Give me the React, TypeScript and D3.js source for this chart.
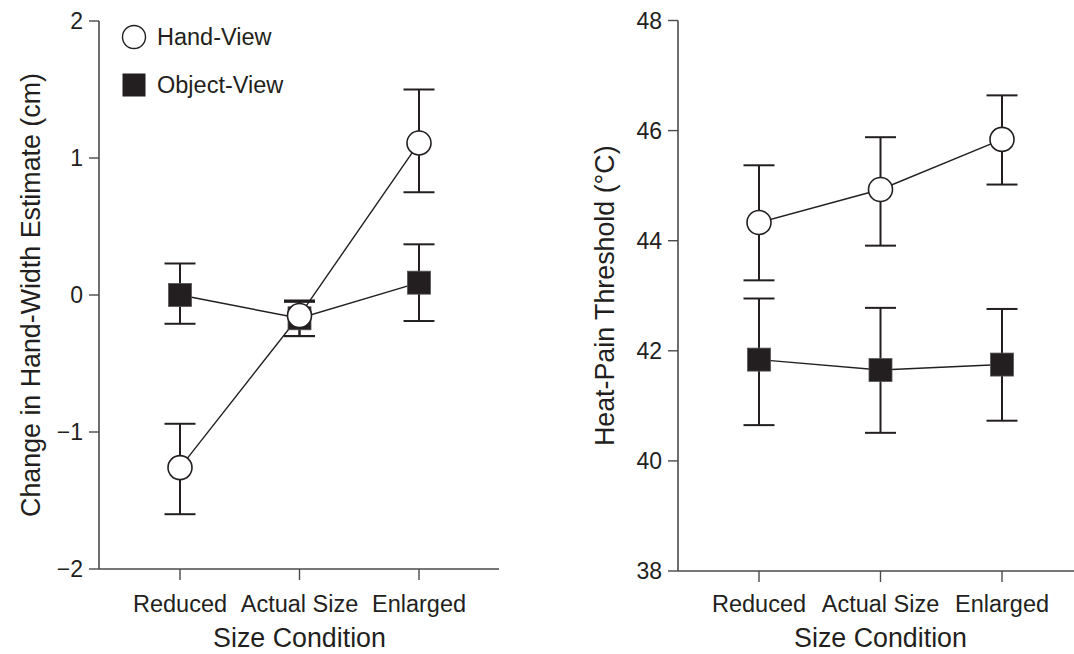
import React from "react";
import * as d3 from "d3";

const categories = ["Reduced", "Actual Size", "Enlarged"];

// Left panel: Change in Hand-Width Estimate (cm)
const leftTicks = [-2, -1, 0, 1, 2];
const leftHandMean = [-1.26, -0.15, 1.11];
const leftHandLow = [-1.6, -0.3, 0.75];
const leftHandHigh = [-0.94, -0.04, 1.5];
const leftObjMean = [0.0, -0.17, 0.09];
const leftObjLow = [-0.21, -0.3, -0.19];
const leftObjHigh = [0.23, -0.05, 0.37];

// Right panel: Heat-Pain Threshold (°C)
const rightTicks = [38, 40, 42, 44, 46, 48];
const rightHandMean = [44.33, 44.93, 45.84];
const rightHandLow = [43.28, 43.91, 45.02];
const rightHandHigh = [45.37, 45.88, 46.64];
const rightObjMean = [41.84, 41.65, 41.75];
const rightObjLow = [40.65, 40.51, 40.73];
const rightObjHigh = [42.95, 42.78, 42.76];

const legendLabels = ["Hand-View", "Object-View"];

const INK = "#231f20";
const AXIS = "#4a4a4a";
const FONT = "'Liberation Sans', Arial, Helvetica, sans-serif";

type Series = { mean: number[]; low: number[]; high: number[] };

function Panel(props: {
  x0: number; x1: number; axisEnd: number; xLineEnd: number;
  yTop: number; yBottom: number; domain: [number, number];
  ticks: number[]; tickFmt: (v: number) => string;
  hand: Series; obj: Series; yTitle: string; yTitleX: number;
}) {
  const { x0, x1, axisEnd, xLineEnd, yTop, yBottom, domain, ticks, tickFmt, hand, obj, yTitle, yTitleX } = props;
  const x = d3.scalePoint<string>().domain(categories).range([x1, axisEnd]);
  const y = d3.scaleLinear().domain(domain).range([yBottom, yTop]);
  const line = d3.line<number>().x((_, i) => x(categories[i]) as number).y((v) => y(v));
  const cap = 15.5;
  const errBars = (s: Series, key: string) =>
    s.mean.map((_, i) => {
      const cx = x(categories[i]) as number;
      return (
        <g key={key + i} stroke={INK} strokeWidth={2}>
          <line x1={cx} x2={cx} y1={y(s.low[i])} y2={y(s.high[i])} />
          <line x1={cx - cap} x2={cx + cap} y1={y(s.low[i])} y2={y(s.low[i])} />
          <line x1={cx - cap} x2={cx + cap} y1={y(s.high[i])} y2={y(s.high[i])} />
        </g>
      );
    });
  const midX = x(categories[1]) as number;
  return (
    <g>
      <line x1={x0} x2={x0} y1={yTop} y2={yBottom} stroke={AXIS} strokeWidth={1.6} />
      <line x1={x0} x2={xLineEnd} y1={yBottom} y2={yBottom} stroke={AXIS} strokeWidth={1.6} />
      {ticks.map((t) => (
        <g key={"yt" + t}>
          <line x1={x0 - 10} x2={x0} y1={y(t)} y2={y(t)} stroke={AXIS} strokeWidth={1.4} />
          <text x={x0 - 16} y={y(t)} dy="0.35em" textAnchor="end" fontSize={23} fill={INK} fontFamily={FONT}>
            {tickFmt(t)}
          </text>
        </g>
      ))}
      {categories.map((c) => (
        <g key={"xt" + c}>
          <line x1={x(c)} x2={x(c)} y1={yBottom} y2={yBottom + 11} stroke={AXIS} strokeWidth={1.4} />
          <text x={x(c)} y={612} textAnchor="middle" fontSize={23.5} fill={INK} fontFamily={FONT}>
            {c}
          </text>
        </g>
      ))}
      <text x={midX} y={647} textAnchor="middle" fontSize={26.8} fill={INK} fontFamily={FONT}>
        Size Condition
      </text>
      <text
        transform={`translate(${yTitleX},${(yTop + yBottom) / 2}) rotate(-90)`}
        textAnchor="middle" fontSize={26.8} fill={INK} fontFamily={FONT}
      >
        {yTitle}
      </text>
      <path d={line(obj.mean) || ""} fill="none" stroke={INK} strokeWidth={1.4} />
      <path d={line(hand.mean) || ""} fill="none" stroke={INK} strokeWidth={1.4} />
      {errBars(obj, "eo")}
      {errBars(hand, "eh")}
      {obj.mean.map((v, i) => (
        <rect key={"sq" + i} x={(x(categories[i]) as number) - 11.5} y={y(v) - 11.5} width={23} height={23}
          fill={INK} stroke="#555" strokeWidth={0.8} />
      ))}
      {hand.mean.map((v, i) => (
        <circle key={"ci" + i} cx={x(categories[i]) as number} cy={y(v)} r={12}
          fill="#fff" stroke={INK} strokeWidth={1.6} />
      ))}
    </g>
  );
}

export default function App() {
  return (
    <svg width={1074} height={654} style={{ position: "absolute", left: 0, top: 0, background: "#fff" }}>
      <rect x={0} y={0} width={1074} height={654} fill="#fff" />
      <Panel
        x0={99} x1={180} axisEnd={419} xLineEnd={499}
        yTop={21} yBottom={569} domain={[-2, 2]} ticks={leftTicks}
        tickFmt={(v) => (v < 0 ? "\u2212" + Math.abs(v) : String(v))}
        hand={{ mean: leftHandMean, low: leftHandLow, high: leftHandHigh }}
        obj={{ mean: leftObjMean, low: leftObjLow, high: leftObjHigh }}
        yTitle="Change in Hand-Width Estimate (cm)" yTitleX={40}
      />
      <Panel
        x0={678} x1={759} axisEnd={1002} xLineEnd={1074}
        yTop={20.5} yBottom={571} domain={[38, 48]} ticks={rightTicks}
        tickFmt={(v) => String(v)}
        hand={{ mean: rightHandMean, low: rightHandLow, high: rightHandHigh }}
        obj={{ mean: rightObjMean, low: rightObjLow, high: rightObjHigh }}
        yTitle="Heat-Pain Threshold (°C)" yTitleX={614}
      />
      <circle cx={134} cy={37} r={11.5} fill="#fff" stroke={INK} strokeWidth={1.4} />
      <text x={157} y={37} dy="0.35em" fontSize={23.5} fill={INK} fontFamily={FONT}>{legendLabels[0]}</text>
      <rect x={122.5} y={73.5} width={23} height={23} fill={INK} />
      <text x={157} y={85} dy="0.35em" fontSize={23.5} fill={INK} fontFamily={FONT}>{legendLabels[1]}</text>
    </svg>
  );
}
